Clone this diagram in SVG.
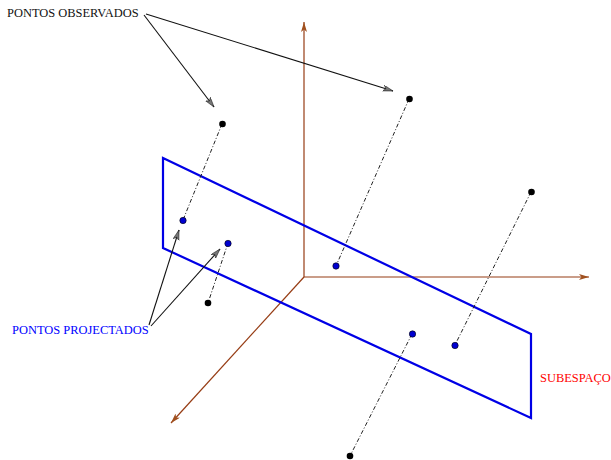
<svg xmlns="http://www.w3.org/2000/svg" width="611" height="460" viewBox="0 0 611 460">
<style>
text{font-family:"Liberation Serif","Times New Roman",serif;font-size:12.45px}
.axis{fill:none;stroke:#963c14;stroke-width:1.2}
.ptr{fill:none;stroke:#111;stroke-width:1.1}
.proj{fill:none;stroke:#222;stroke-width:1;stroke-dasharray:4 2 1 2}
.plane{fill:none;stroke:#0000e6;stroke-width:2.2}
.obs{fill:#000}
.pr{fill:#0000d0;stroke:#000;stroke-width:.6}
</style>
<defs>
<marker id="ab" markerUnits="userSpaceOnUse" markerWidth="12" markerHeight="8" refX="10" refY="3" orient="auto"><path d="M0 0L10 3L0 6L2.500 3Z" fill="#a0501e"/></marker>
<marker id="pb" markerUnits="userSpaceOnUse" markerWidth="12" markerHeight="8" refX="10" refY="3" orient="auto"><path d="M0 0L10 3L0 6L2.500 3Z" fill="#777" stroke="#111" stroke-width=".5"/></marker>
</defs>
<g id="axes">
<line class="axis" x1="304" y1="277" x2="304" y2="22" marker-end="url(#ab)"/>
<line class="axis" x1="304" y1="277" x2="589" y2="277" marker-end="url(#ab)"/>
<line class="axis" x1="304" y1="277" x2="171" y2="423" marker-end="url(#ab)"/>
</g>
<g id="subespaco"><path class="plane" d="M163 158L531 334V418L163 248Z"/></g>
<g id="connectors">
<line class="proj" x1="222" y1="124" x2="183" y2="220"/>
<line class="proj" x1="409" y1="99" x2="336" y2="266"/>
<line class="proj" x1="531" y1="192" x2="455" y2="345"/>
<line class="proj" x1="228" y1="243" x2="208" y2="303"/>
<line class="proj" x1="412" y1="334" x2="350" y2="456"/>
<line class="ptr" x1="144" y1="15" x2="214" y2="107" marker-end="url(#pb)"/>
<line class="ptr" x1="146" y1="14" x2="393" y2="91" marker-end="url(#pb)"/>
<line class="ptr" x1="149" y1="325" x2="179" y2="230" marker-end="url(#pb)"/>
<line class="ptr" x1="151" y1="326" x2="220" y2="249" marker-end="url(#pb)"/>
</g>
<g id="obs1"><circle class="obs" cx="222.500" cy="124" r="3.300"/></g>
<g id="obs2"><circle class="obs" cx="409.500" cy="99" r="3.300"/></g>
<g id="obs3"><circle class="obs" cx="531.500" cy="192" r="3.300"/></g>
<g id="obs4"><circle class="obs" cx="208" cy="303" r="3.300"/></g>
<g id="obs5"><circle class="obs" cx="350" cy="456" r="3.300"/></g>
<g id="proj1"><circle class="pr" cx="183" cy="220.500" r="3.200"/></g>
<g id="proj2"><circle class="pr" cx="228" cy="243.500" r="3.200"/></g>
<g id="proj3"><circle class="pr" cx="336" cy="266" r="3.200"/></g>
<g id="proj4"><circle class="pr" cx="412.500" cy="334" r="3.200"/></g>
<g id="proj5"><circle class="pr" cx="455" cy="345.500" r="3.200"/></g>
<g id="labels">
<text x="7" y="17" fill="#111">PONTOS OBSERVADOS</text>
<text x="12" y="334" fill="#0000ff">PONTOS PROJECTADOS</text>
<text x="540" y="382" fill="#ff0000">SUBESPAÇO</text>
</g>
</svg>
